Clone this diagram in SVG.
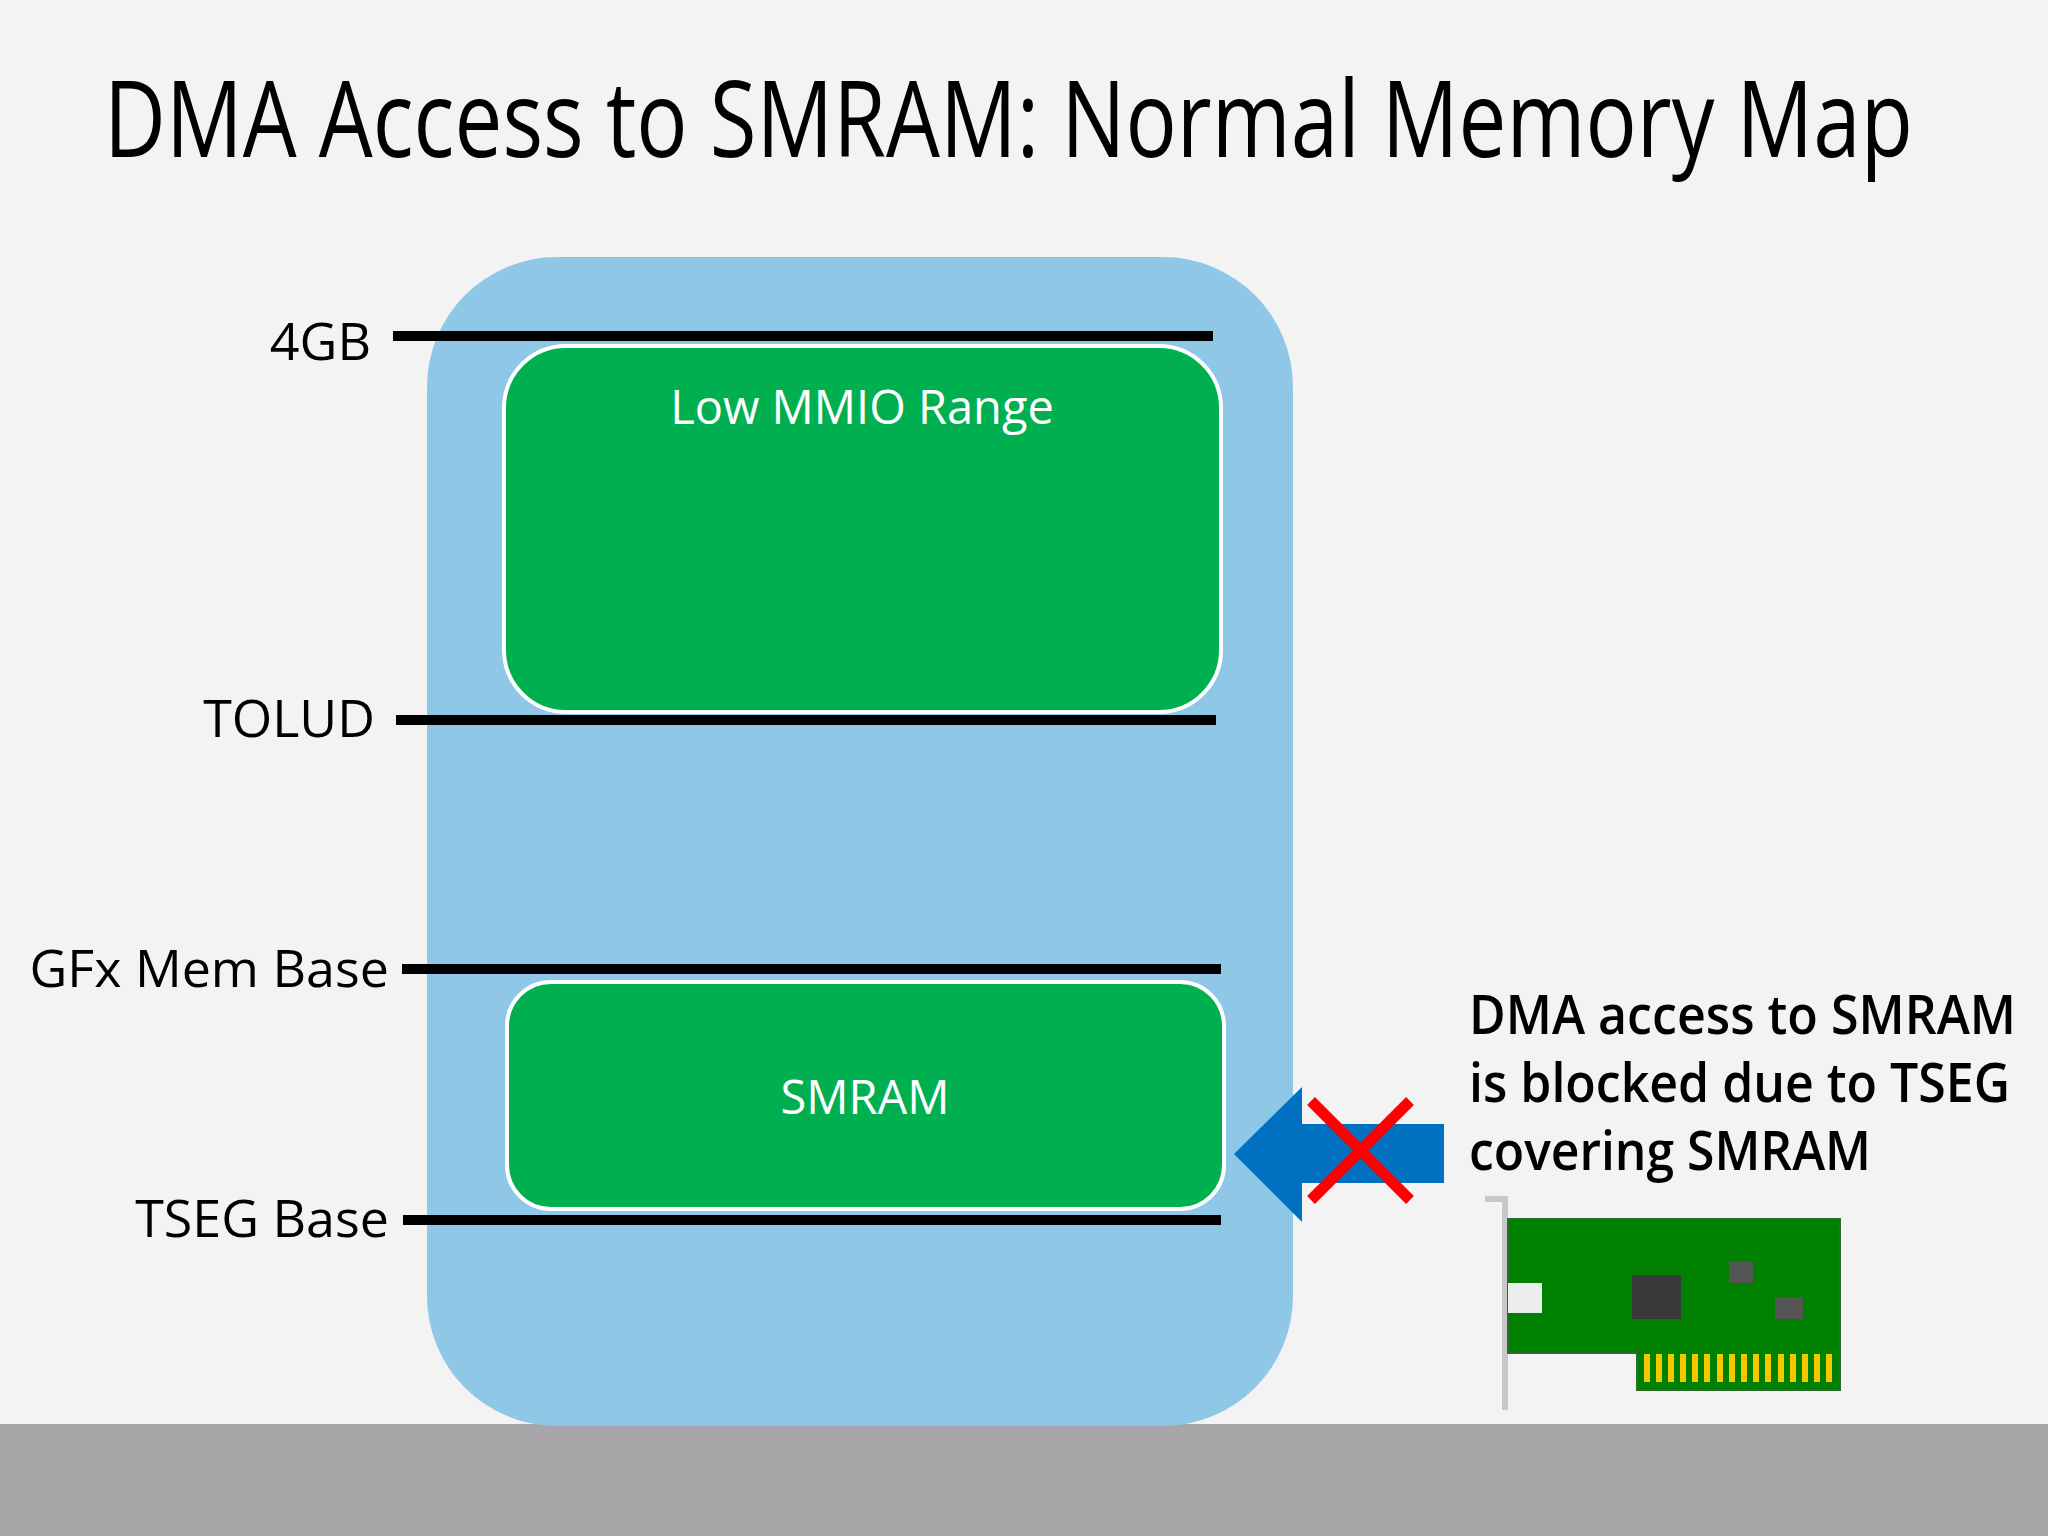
<svg xmlns="http://www.w3.org/2000/svg" width="2048" height="1536" viewBox="0 0 2048 1536">
<style>
.t{font-family:"Open Sans","Liberation Sans",sans-serif;fill:#000}
.lbl{font-size:52px;text-anchor:end}
.in{font-family:"Open Sans","Liberation Sans",sans-serif;fill:#fff;font-size:47px;text-anchor:middle}
.ln{stroke:#000;stroke-width:10}
.gb{fill:#00b050;stroke:#fff;stroke-width:4}
</style>
<rect width="2048" height="1536" fill="#f3f3f3"/>
<rect y="1424" width="2048" height="112" fill="#a7a6a8"/>
<text class="t" x="104" y="157" font-size="106" textLength="1809" lengthAdjust="spacingAndGlyphs">DMA Access to SMRAM: Normal Memory Map</text>
<g id="memmap"><rect x="427" y="257" width="866" height="1169" rx="130" fill="#8fc7e6"/></g>
<g id="lowmmio"><rect class="gb" x="504" y="346" width="717" height="366" rx="62"/><text class="in" x="862" y="424">Low MMIO Range</text></g>
<g id="smram"><rect class="gb" x="507" y="982" width="717" height="227" rx="44"/><text class="in" x="865" y="1114">SMRAM</text></g>
<g id="connectors">
<line class="ln" x1="393" y1="336" x2="1213" y2="336"/>
<line class="ln" x1="396" y1="720" x2="1216" y2="720"/>
<line class="ln" x1="402" y1="969" x2="1221" y2="969"/>
<line class="ln" x1="403" y1="1220" x2="1221" y2="1220"/>
<polygon points="1234,1154 1302,1087 1302,1124 1444,1124 1444,1183 1302,1183 1302,1222" fill="#0070c0"/>
<line x1="1311" y1="1101" x2="1410" y2="1200" stroke="#ff0000" stroke-width="11"/>
<line x1="1311" y1="1200" x2="1410" y2="1101" stroke="#ff0000" stroke-width="11"/>
</g>
<g id="labels">
<text class="t lbl" x="371" y="360">4GB</text>
<text class="t lbl" x="375" y="737">TOLUD</text>
<text class="t lbl" x="389" y="987">GFx Mem Base</text>
<text class="t lbl" x="389" y="1237">TSEG Base</text>
</g>
<g id="note" class="t" font-size="54" font-weight="600">
<text x="1469" y="1034" textLength="547" lengthAdjust="spacingAndGlyphs">DMA access to SMRAM</text>
<text x="1469" y="1102" textLength="541" lengthAdjust="spacingAndGlyphs">is blocked due to TSEG</text>
<text x="1469" y="1170" textLength="402" lengthAdjust="spacingAndGlyphs">covering SMRAM</text>
</g>
<g id="card">
<path d="M1485,1199 H1505 V1410" fill="none" stroke="#c8c8c8" stroke-width="6"/>
<path d="M1508,1219 H1840 V1390 H1637 V1353 H1508 Z" fill="#008000" stroke="#2e6b2e" stroke-width="2"/>
<rect x="1508" y="1283" width="34" height="30" fill="#ececec"/>
<rect x="1632" y="1275" width="49" height="44" fill="#383838"/>
<rect x="1729" y="1261" width="24" height="22" fill="#555"/>
<rect x="1775" y="1297" width="28" height="22" fill="#555"/>
<g fill="#f5c800">
<rect x="1644" y="1354" width="6" height="28"/><rect x="1656" y="1354" width="6" height="28"/><rect x="1668" y="1354" width="6" height="28"/><rect x="1680" y="1354" width="6" height="28"/><rect x="1692" y="1354" width="6" height="28"/><rect x="1704" y="1354" width="6" height="28"/><rect x="1717" y="1354" width="6" height="28"/><rect x="1729" y="1354" width="6" height="28"/><rect x="1741" y="1354" width="6" height="28"/><rect x="1753" y="1354" width="6" height="28"/><rect x="1765" y="1354" width="6" height="28"/><rect x="1778" y="1354" width="6" height="28"/><rect x="1790" y="1354" width="6" height="28"/><rect x="1802" y="1354" width="6" height="28"/><rect x="1814" y="1354" width="6" height="28"/><rect x="1826" y="1354" width="6" height="28"/>
</g>
</g>
</svg>
